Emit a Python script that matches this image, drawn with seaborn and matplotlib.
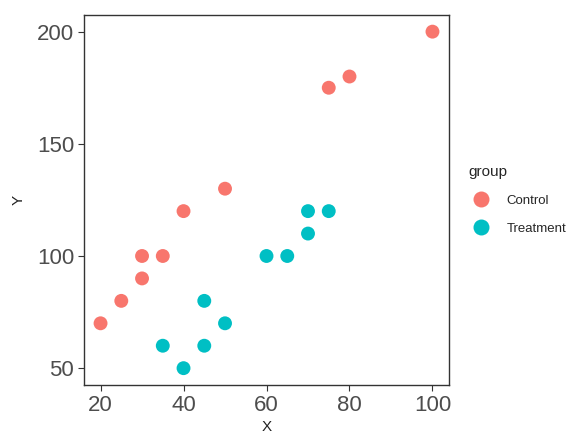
import pandas as pd
import matplotlib
matplotlib.use('Agg')
import matplotlib.pyplot as plt
import seaborn as sns

# Data
control_x = [20, 25, 30, 30, 35, 40, 50, 75, 80, 100]
control_y = [70, 80, 90, 100, 100, 120, 130, 175, 180, 200]
treatment_x = [35, 40, 45, 45, 50, 60, 65, 70, 70, 75]
treatment_y = [60, 50, 60, 80, 70, 100, 100, 110, 120, 120]
groups = ['Control', 'Treatment']
palette = {'Control': '#F8766D', 'Treatment': '#00BFC4'}

df = pd.DataFrame({
    'X': control_x + treatment_x,
    'Y': control_y + treatment_y,
    'group': [groups[0]] * len(control_x) + [groups[1]] * len(treatment_x),
})

sns.set_style('white')
plt.rcParams['font.family'] = ['Liberation Sans', 'DejaVu Sans']

fig = plt.figure(figsize=(5.75, 4.36), dpi=100)
ax = fig.add_axes([0.146, 0.117, 0.635, 0.849])

sns.scatterplot(data=df, x='X', y='Y', hue='group', hue_order=groups,
                palette=palette, s=100, linewidth=0, ax=ax)

ax.set_xlim(16, 104)
ax.set_ylim(42.5, 207.5)
ax.set_xticks([20, 40, 60, 80, 100])
ax.set_yticks([50, 100, 150, 200])
ax.tick_params(axis='both', labelsize=16, labelcolor='#4D4D4D', color='#333333',
               direction='out', length=4, width=0.8, bottom=True, left=True, pad=3)
ax.set_xlabel('X', fontsize=11, color='#222222', labelpad=3)
ax.set_ylabel('Y', fontsize=11, color='#222222', labelpad=8)
for sp in ax.spines.values():
    sp.set_color('#333333')
    sp.set_linewidth(1.0)

leg = ax.legend(title='group', loc='center left', bbox_to_anchor=(1.02, 0.5),
                frameon=False, fontsize=9.5, title_fontsize=11,
                markerscale=1.15, handletextpad=0.9, labelspacing=1.2)
leg._legend_box.align = 'left'

fig.savefig('out.png', dpi=100)
